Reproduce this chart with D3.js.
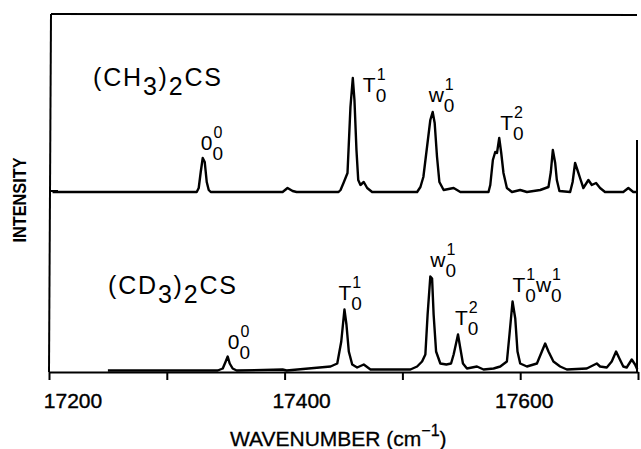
<!DOCTYPE html>
<html lang="en">
<head>
<meta charset="UTF-8">
<title>Thioacetone spectra</title>
<script src="https://cdn.jsdelivr.net/npm/d3@7"></script>
<style>
  body { margin: 0; background: #fff; }
  svg { display: block; }
  text { font-family: "Liberation Sans", Arial, sans-serif; fill: #000; }
</style>
</head>
<body>
<svg id="chart" width="641" height="449"></svg>
<script>
// wavenumber (cm-1) and relative intensity
var ch3Wave = [17203, 17324.6, 17325.4, 17327.1, 17328.8, 17330.5, 17332.2, 17333.9, 17335.6, 17337.3,
  17398.3, 17402.5, 17406.8, 17410.2, 17445.8, 17447.5, 17450, 17453.4, 17455.9, 17457.9, 17459.3,
  17461, 17462.5, 17464.4, 17467.2, 17470.1, 17474.3, 17512.5, 17515.3, 17517.8, 17520.9, 17523.7,
  17525.7, 17527.4, 17529.4, 17531.4, 17535, 17543.5, 17549.2, 17573.1, 17574.6, 17576.8, 17578.8,
  17580.3, 17582.2, 17583.9, 17585.8, 17588.7, 17593, 17600, 17605.7, 17617, 17624, 17626, 17627.7,
  17629.7, 17631.1, 17633.3, 17642.4, 17644.5, 17646.6, 17648.6, 17650.8, 17653.6, 17657.9, 17660.8,
  17664.4, 17667.8, 17672, 17687.5, 17691.8, 17696, 17698.3];
var ch3Int = [0, 0, 0, 4, 20, 34, 30, 10, 2, 0,
  0, 4, 1, 0, 0, 2, 9, 19, 85, 114, 92,
  42, 12, 7, 10, 4, 0, 0, 5, 15, 45, 72,
  80, 69, 35, 10, 2, 4, 0, 0, 7, 32, 40,
  39, 54, 39, 19, 4, 0, 2, 0, 2, 5, 20, 42,
  29, 12, 1, 0, 10, 29, 22, 14, 4, 12, 7,
  9, 4, 0, 0, 4, 0, 0];

var cd3Wave = [17250, 17343.2, 17347.5, 17350, 17351.7, 17353.4, 17355.9, 17359.3, 17398.3, 17401.7,
  17439, 17444.7, 17448.1, 17450.8, 17452.5, 17454.5, 17457.4, 17461.6, 17467.2, 17472.9, 17506.8,
  17512.5, 17516.7, 17519.5, 17521.4, 17523.7, 17525.2, 17526.5, 17528.6, 17532.2, 17537.3, 17541.3,
  17543.5, 17547.2, 17549.2, 17551.4, 17554.8, 17563.3, 17568.9, 17577.4, 17583.1, 17588.7, 17590.9,
  17593.5, 17595.8, 17597.7, 17600, 17605.7, 17614.2, 17618.4, 17621.2, 17624, 17628.2, 17633.9,
  17639.6, 17656.5, 17665, 17667.8, 17673.5, 17677.7, 17681.4, 17684.2, 17687.5, 17690.4, 17694.7,
  17697.5, 17699.4];
var cd3Int = [0, 0, 2, 9, 14, 7, 2, 0, 1, 0,
  4, 7, 29, 61, 46, 19, 6, 3, 6, 1, 1,
  4, 9, 16, 56, 94, 92, 56, 19, 7, 6, 7,
  16, 36, 22, 7, 2, 4, 1, 2, 4, 9, 36,
  69, 52, 19, 7, 4, 7, 19, 27, 19, 9, 4,
  1, 2, 7, 4, 3, 9, 19, 12, 4, 3, 11,
  6, 1];

var tickValues = [17200, 17300, 17400, 17500, 17600, 17700];
var tickLabelValues = [17200, 17400, 17600];

// peak assignments: [main, sub, sup] groups, attached to a peak position
var ch3Labels = [
  { wave: 17330.5, inten: 34, parts: [["0", "0", "0"]] },
  { wave: 17457.9, inten: 114, parts: [["T", "0", "1"]] },
  { wave: 17525.7, inten: 80, parts: [["w", "0", "1"]] },
  { wave: 17582.2, inten: 54, parts: [["T", "0", "2"]] }
];
var cd3Labels = [
  { wave: 17351.7, inten: 14, parts: [["0", "0", "0"]] },
  { wave: 17450.8, inten: 61, parts: [["T", "0", "1"]] },
  { wave: 17523.7, inten: 94, parts: [["w", "0", "1"]] },
  { wave: 17547.2, inten: 36, parts: [["T", "0", "2"]] },
  { wave: 17593.5, inten: 69, parts: [["T", "0", "1"], ["w", "0", "1"]] }
];

var svg = d3.select("#chart");

var x = d3.scaleLinear().domain([17200, 17700]).range([49, 638]);
var yTop = d3.scaleLinear().domain([0, 180]).range([192, 12]);
var yBot = d3.scaleLinear().domain([0, 180]).range([370.5, 190.5]);
var axisY = 372;

// frame
svg.append("line").attr("x1", 51).attr("y1", 14).attr("x2", 637).attr("y2", 15)
  .attr("stroke", "#000").attr("stroke-width", 2);
svg.append("line").attr("x1", 51).attr("y1", 14).attr("x2", 49).attr("y2", axisY)
  .attr("stroke", "#000").attr("stroke-width", 2);
svg.append("line").attr("x1", 637).attr("y1", 140).attr("x2", 637).attr("y2", axisY)
  .attr("stroke", "#000").attr("stroke-width", 2);
svg.append("line").attr("x1", 50).attr("y1", 191).attr("x2", 58).attr("y2", 191)
  .attr("stroke", "#000").attr("stroke-width", 2);

// bottom axis
var xAxis = d3.axisBottom(x).tickValues(tickValues).tickSize(8).tickSizeOuter(0).tickFormat("");
var gx = svg.append("g").attr("transform", "translate(0," + axisY + ")").call(xAxis);
gx.select(".domain").attr("stroke-width", 2);
gx.selectAll(".tick line").attr("stroke-width", 2);

var labelShift = { 17200: 24, 17400: 17, 17600: 4 };
svg.selectAll(".tlab").data(tickLabelValues).enter().append("text")
  .attr("class", "tlab")
  .attr("x", function(d) { return x(d) + labelShift[d]; })
  .attr("y", 408)
  .attr("text-anchor", "middle")
  .attr("font-size", 21)
  .attr("stroke", "#000").attr("stroke-width", 0.4)
  .text(function(d) { return d; });

// axis titles
var xt = svg.append("text").attr("x", 230).attr("y", 446).attr("font-size", 21)
  .attr("stroke", "#000").attr("stroke-width", 0.3);
xt.append("tspan").text("WAVENUMBER (cm");
xt.append("tspan").attr("dy", -10).attr("font-size", 16).text("\u22121");
xt.append("tspan").attr("dy", 10).text(")");

svg.append("text")
  .attr("transform", "translate(26,200) rotate(-90)")
  .attr("text-anchor", "middle")
  .attr("font-size", 19)
  .attr("font-weight", "bold")
  .attr("textLength", 85)
  .attr("lengthAdjust", "spacingAndGlyphs")
  .text("INTENSITY");

// traces
function traceLine(ys) {
  return d3.line()
    .x(function(d) { return x(d[0]); })
    .y(function(d) { return ys(d[1]); });
}
svg.append("path")
  .datum(d3.zip(ch3Wave, ch3Int))
  .attr("d", traceLine(yTop))
  .attr("fill", "none").attr("stroke", "#000")
  .attr("stroke-width", 2.4).attr("stroke-linejoin", "round");
svg.append("path")
  .datum(d3.zip(cd3Wave, cd3Int))
  .attr("d", traceLine(yBot))
  .attr("fill", "none").attr("stroke", "#000")
  .attr("stroke-width", 2.4).attr("stroke-linejoin", "round");

// molecule names
function molecule(px, py, a, b) {
  var t = svg.append("text").attr("x", px).attr("y", py).attr("font-size", 25)
    .attr("textLength", 128).attr("lengthAdjust", "spacing");
  t.append("tspan").text("(C" + a);
  t.append("tspan").attr("dy", 9).text("3");
  t.append("tspan").attr("dy", -9).text(")");
  t.append("tspan").attr("dy", 9).text("2");
  t.append("tspan").attr("dy", -9).text(b);
}
molecule(93, 86, "H", "CS");
molecule(108, 294, "D", "CS");

// peak labels; offsets of each label from its peak top
var ch3Offsets = [[-2, -8], [10, 14], [-4, -10], [1, -8]];
var cd3Offsets = [[0, -8], [-6, -10], [0, -10], [-3, -10], [0, -10]];

function peakLabel(lab, off, ys) {
  var px = x(lab.wave) + off[0];
  var py = ys(lab.inten) + off[1];
  lab.parts.forEach(function(p) {
    var m = svg.append("text").attr("x", px).attr("y", py).attr("font-size", 21).text(p[0]);
    var w = m.node().getComputedTextLength();
    var sub = svg.append("text").attr("x", px + w).attr("y", py + 10).attr("font-size", 19).text(p[1]);
    var sup = svg.append("text").attr("x", px + w + 1).attr("y", py - 12).attr("font-size", 16).text(p[2]);
    px += w + Math.max(sub.node().getComputedTextLength(), sup.node().getComputedTextLength() + 1);
  });
}
ch3Labels.forEach(function(l, i) { peakLabel(l, ch3Offsets[i], yTop); });
cd3Labels.forEach(function(l, i) { peakLabel(l, cd3Offsets[i], yBot); });
</script>
</body>
</html>
